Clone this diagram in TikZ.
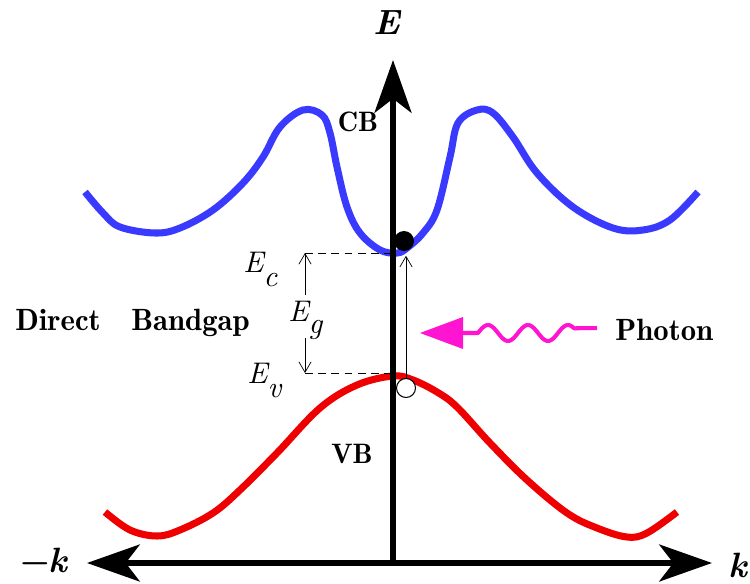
\documentclass[tikz,border=0pt]{standalone}
\usepackage{fontspec}
\setmainfont{lmroman10-regular.otf}[BoldFont=lmromandemi10-regular.otf,
    ItalicFont=lmroman10-italic.otf, BoldItalicFont=lmroman10-bolditalic.otf]
\usetikzlibrary{arrows.meta, positioning}
\definecolor{cbblue}{RGB}{58,58,255}
\definecolor{vbred}{RGB}{238,0,0}
\definecolor{photonpink}{RGB}{255,20,210}

\begin{document}
\begin{tikzpicture}[x=0.02cm, y=-0.02cm,
    axis/.style={line width=3.4pt},
    bigtip/.tip={Stealth[length=30pt, width=21pt, inset=8pt]},
    band/.style={line width=4pt, line join=round},
    level/.style={thin, -{Straight Barb[length=6pt, width=7pt]}},
    lbl/.style={font=\fontsize{17.5}{20}\selectfont\bfseries, inner sep=0pt, anchor=base},
    bandlbl/.style={font=\fontsize{16}{19}\selectfont\bfseries, inner sep=0pt, anchor=base},
    axlbl/.style={font=\fontsize{20}{24}\selectfont\bfseries\itshape, inner sep=0pt, anchor=base},
    energy/.style={font=\fontsize{17}{20}\selectfont\itshape, inner sep=0pt, anchor=base west}]
    \useasboundingbox (0,0) rectangle (750,584);

    % Bands
    \draw[band, cbblue] plot[smooth, tension=0.6] coordinates {
        (85,192) (103,213) (120,227) (155,233) (180,228) (213,210) (243,183)
        (263,157) (280,127) (303,110) (322,115) (330,133) (337,167) (347,207)
        (360,233) (380,250) (397,253) (407,248) (423,233) (437,210) (450,157)
        (458,123) (477,110) (493,113) (513,137) (537,173) (573,207) (613,228)
        (643,230) (670,220) (698,192)};
    \draw[band, vbred] plot[smooth, tension=0.6] coordinates {
        (105,512) (130,530) (157,536) (180,530) (213,513) (240,490) (277,453)
        (320,408) (357,385) (393,376) (413,380) (437,392) (457,407) (490,443)
        (527,480) (567,513) (597,528) (627,537) (647,533) (677,512)};

    % Axes
    \coordinate (origin) at (393,563);
    \coordinate (ytip) at (393,60);
    \coordinate (kleft) at (87,563);
    \coordinate (kright) at (712,563);
    \draw[axis, -bigtip] (origin) -- (ytip);
    \draw[axis, bigtip-bigtip] (kleft) -- (kright);
    \node[axlbl] (elabel) at (387,35) {E};
    \node[axlbl] (kminus) at (42,572) {−k};
    \node[axlbl] (kplus) at (738,577) {k};

    % Band labels
    \node[bandlbl] (cb) at (358,132) {CB};
    \node[bandlbl] (vb) at (352,463) {VB};
    \node[lbl] (direct) at (58,330) {Direct};
    \node[lbl, right=0.6cm of direct.base east, anchor=base west] (gap) {Bandgap};

    % Energy levels
    \coordinate (ec) at (305,253);
    \coordinate (ev) at (305,373);
    \draw[thin, dashed, dash pattern=on 4.5pt off 3pt] (ec) -- (ec -| origin);
    \draw[thin, dashed, dash pattern=on 4.5pt off 3pt] (ev) -- (ev -| origin);
    \coordinate (egtop) at (305,295);
    \coordinate (egbot) at (305,338);
    \draw[level] (egtop) -- (ec);
    \draw[level] (egbot) -- (ev);
    \node[energy] (eclabel) at (243,272) {E\raisebox{-0.48em}{c}};
    \node[energy] (eglabel) at (288,321) {E\raisebox{-0.42em}{g}};
    \node[energy] (evlabel) at (247,383) {E\raisebox{-0.5em}{v}};

    % Electron and hole
    \node[circle, fill=black, minimum size=0.4cm, inner sep=0pt] (elec) at (404,241) {};
    \node[circle, draw, fill=white, line width=0.6pt, minimum size=0.38cm, inner sep=0pt] (hole) at (406,388) {};
    \draw[level, shorten >=2.5pt] (hole.north) -- (hole.north |- elec.south);

    % Photon
    \node[lbl, anchor=base west] (photon) at (615,340) {Photon};
    \coordinate (wavestart) at (478,333);
    \coordinate (waveend) at (597,328);
    \fill[photonpink] (420,333) -- (463,317) -- (463,349) -- cycle;
    \draw[photonpink, line width=2.3pt, line join=round] (463,333) -- (wavestart)
        -- plot[domain=478:574, samples=60, smooth] (\x, {333-8*sin(9*(\x-478))})
        -- (waveend);
\end{tikzpicture}
\end{document}
